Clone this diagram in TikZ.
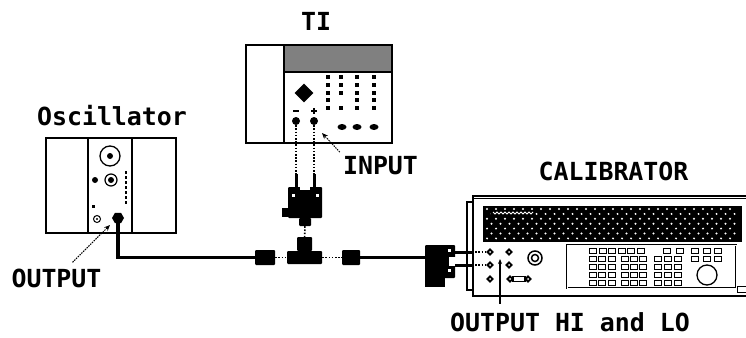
\documentclass[tikz,border=0pt]{standalone}
\usepackage{fontspec}
\setmonofont{DejaVu Sans Mono}
\usetikzlibrary{positioning,shapes.geometric,arrows.meta}

\tikzset{
  unit/.style={draw, rectangle, line width=1.6pt, inner sep=0pt},
  plug/.style={fill=black, rectangle, rounded corners=1pt, inner sep=0pt},
  title/.style={font=\ttfamily\bfseries\fontsize{24.9}{25}\selectfont, inner sep=0pt, anchor=base},
  cable/.style={line width=3.5pt},
  lead/.style={line width=1.6pt, dash pattern=on 1.6pt off 1.6pt},
  pointer/.style={line width=1pt, dash pattern=on 1.5pt off 1pt, -{Stealth[length=6pt,width=5pt]}},
  jack/.style={circle, fill=black, inner sep=0pt, minimum size=8pt},
  post/.style={diamond, fill=black, inner sep=0pt, minimum size=8pt},
  key/.style={draw, rectangle, line width=0.9pt, inner sep=0pt, minimum width=7pt, minimum height=4.5pt},
}

\begin{document}
\begin{tikzpicture}[x=1pt, y=-1pt]
    \path[use as bounding box, clip] (0,0) rectangle (746,337);

    % Oscillator
    \node[unit, minimum width=130pt, minimum height=95pt] (osc) at (111,185.5) {};
    \draw[line width=1.6pt] ([xshift=43pt]osc.north west) -- ([xshift=43pt]osc.south west)
                            ([xshift=87pt]osc.north west) -- ([xshift=87pt]osc.south west);
    \node[title] (osclbl) at (112,125.5) {Oscillator};
    \draw[line width=1.3pt] (110,156) circle (10);
    \fill (110,156) circle (3);
    \fill (95,180) circle (3);
    \draw[line width=1.2pt] (111,180) circle (6);
    \fill (111,180) circle (3);
    \foreach \y in {171,176,...,201}
        \fill (124.8,\y) rectangle ++(2.6,3);
    \fill (91.5,204.5) rectangle ++(3,3);
    \draw[line width=1pt] (97,219) circle (3.5);
    \fill (97,219) circle (1.2);
    \node[regular polygon, regular polygon sides=6, fill=black, minimum size=12pt, inner sep=0pt] (oscout) at (118,218) {};

    % TI
    \fill[black!50] (284,45) rectangle (392,72);
    \node[unit, minimum width=146pt, minimum height=98pt] (ti) at (319,94) {};
    \draw[line width=1.6pt] (284,45) -- (284,143) (284,72) -- (392,72);
    \node[title] (tilbl) at (316,30.5) {TI};
    \node[diamond, fill=black, minimum size=19pt, inner sep=0pt] (tiknob) at (304,93) {};
    \draw[line width=1.5pt] (293,111) -- (299,111) (311,111) -- (317,111) (314,108) -- (314,114);
    \node[jack] (timinus) at (296,121) {};
    \node[jack] (tiplus) at (314,121) {};
    \foreach \x in {328,357,374}
        \foreach \y in {77,85,93,100,108}
            \fill (\x-1.8,\y-1.8) rectangle ++(3.6,3.6);
    \foreach \y in {77,85,93,108}
        \fill (341-1.8,\y-1.8) rectangle ++(3.6,3.6);
    \foreach \x in {342,357,374}
        \fill (\x,127) ellipse (4.5 and 3);
    \node[title] (inlbl) at (380.5,174.5) {INPUT};
    \coordinate (intip) at (322,133);
    \draw[pointer] ([xshift=-3pt,yshift=4pt]inlbl.north west) -- (intip);

    % adapter and tee
    \node[plug, minimum width=34pt, minimum height=31pt] (adapt) at (305,202.5) {};
    \fill[white] (300,186) rectangle (310,190);
    \fill (282,208) rectangle (288,217);
    \fill[white] (291.5,193.5) rectangle ++(3,3);
    \fill[white] (315.5,193.5) rectangle ++(3,3);
    \coordinate (pminus) at (296,174);
    \coordinate (pplus) at (314,174);
    \draw[line width=3pt] (pminus) -- (296,188) (pplus) -- (314,188);
    \draw[lead] (timinus) -- (pminus);
    \draw[lead] (tiplus) -- (pplus);
    \node[plug, minimum width=12pt, minimum height=8pt] (neck) at (305,222) {};
    \node[plug, minimum width=15pt, minimum height=14pt] (teestem) at (304.5,244) {};
    \node[plug, minimum width=35pt, minimum height=13pt] (tee) at (304.5,257.5) {};
    \draw[lead] (neck) -- (teestem);
    \node[plug, minimum width=20pt, minimum height=15pt] (bncl) at (265,257.5) {};
    \node[plug, minimum width=18pt, minimum height=15pt] (bncr) at (351,257.5) {};
    \draw[lead] (bncl) -- (tee);
    \draw[lead] (tee) -- (bncr);

    % cables
    \draw[cable] (oscout.south) |- (bncl.west);
    \node[title] (outlbl) at (56.5,287) {OUTPUT};
    \coordinate (outtip) at (110,225);
    \draw[pointer] ([xshift=16pt,yshift=6pt]outlbl.north) -- (outtip);

    % Calibrator
    \node[draw, line width=1.4pt, minimum width=290pt, minimum height=100pt, inner sep=0pt] (cal) at (618,246) {};
    \draw[line width=1pt] ([yshift=-3.5pt]cal.north west) -- ([yshift=-3.5pt]cal.north east);
    \draw[line width=1.3pt] (473,202) -- (467,202) -- (467,290) -- (473,290);
    \node[title] (callbl) at (613.5,180.5) {CALIBRATOR};
    \fill (483,206) rectangle (742,242);
    \foreach \r [evaluate=\r as \yy using {209+4.9*\r}, evaluate=\r as \xo using {487+4.5*mod(\r,2)}] in {0,...,6}
        \foreach \c in {0,...,27}
            \fill[white] (\xo+9*\c,\yy) circle (1.1);
    \fill (491,210) rectangle (535,216);
    \draw[white, line width=0.9pt] (493,212) \foreach \i in {1,...,10} { -- ++(2,2) -- ++(2,-2) };
    \node[draw, double, double distance=1pt, line width=0.8pt, minimum width=169pt, minimum height=43pt, inner sep=0pt] (keypad) at (651.5,266.5) {};
    \foreach \x in {593,602.5,612,621.5,631,640.5,667,680,695,707,718}
        \node[key] at (\x,251) {};
    \foreach \x in {593,602,612,625,634,643,658,668,678,695,707,718}
        \node[key] at (\x,259) {};
    \foreach \y in {267,275,283}
        \foreach \x in {593,602,612,625,634,643,658,668,678}
            \node[key] at (\x,\y) {};
    \draw[line width=1.3pt] (707,275) circle (10);
    \draw[line width=1pt] (737,286) rectangle (748,292);

    % output terminals
    \node[post] (hiterm) at (490,252) {};
    \node[post] (loterm) at (490,265) {};
    \node[post] (post3) at (509,252) {};
    \node[post] (post4) at (509,265) {};
    \node[post] (post5) at (490,279) {};
    \draw[line width=1.2pt] (513,276.5) rectangle (525,281.5);
    \node[post] (post6) at (510,279) {};
    \node[post] (post7) at (528,279) {};
    \foreach \n in {hiterm,loterm,post3,post4,post5,post6,post7}
        \fill[white] (\n) circle (1);
    \draw[line width=1.5pt] (535,258) circle (7);
    \draw[line width=1.5pt] (535,258) circle (3.5);

    % HI/LO plug
    \node[plug, minimum width=30pt, minimum height=33pt] (hilo) at (440,261.5) {};
    \fill (425,276) rectangle (445,287);
    \fill[white] (449,257) rectangle (456,266);
    \fill[white] (447.5,248.5) rectangle ++(3,3);
    \fill[white] (447.5,268.5) rectangle ++(3,3);
    \draw[cable] (bncr.east) -- (bncr.east -| hilo.west);
    \coordinate (hiprong) at (472,252);
    \coordinate (loprong) at (472,265);
    \draw[line width=3pt] (hilo.east |- hiprong) -- (hiprong);
    \draw[line width=3pt] (hilo.east |- loprong) -- (loprong);
    \draw[lead] (hiprong) -- (hiterm);
    \draw[lead] (loprong) -- (loterm);

    \node[title] (hilolbl) at (570,331) {OUTPUT HI and LO};
    \coordinate (hilotip) at (500,259);
    \draw[line width=1.2pt, -{Stealth[length=5pt,width=4pt]}] ([yshift=8pt]hilotip |- hilolbl.north) -- (hilotip);
\end{tikzpicture}
\end{document}
